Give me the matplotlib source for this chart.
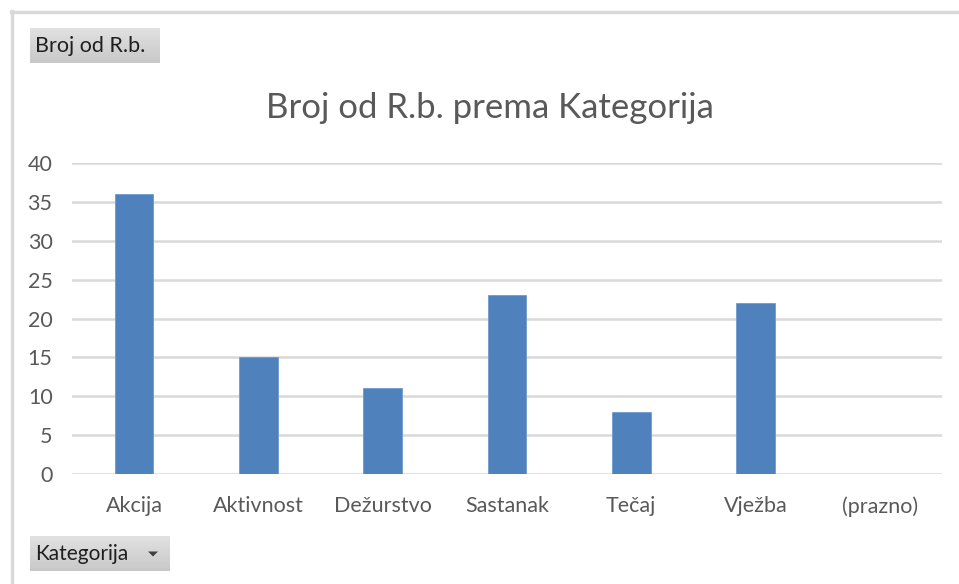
import matplotlib
matplotlib.use("Agg")
import matplotlib.pyplot as plt
from matplotlib.patches import Rectangle, Polygon
import numpy as np

categories = ["Akcija", "Aktivnost", "Dežurstvo", "Sastanak", "Tečaj", "Vježba", "(prazno)"]
values = [36, 15, 11, 23, 8, 22, 0]
yticks = [0, 5, 10, 15, 20, 25, 30, 35, 40]
title = "Broj od R.b. prema Kategorija"

W, H = 959, 584
fig = plt.figure(figsize=(W / 100, H / 100), dpi=100)
plt.rcParams['font.family'] = ['Lato', 'DejaVu Sans']

def fx(x):
    return x / W

def fy(y):
    return 1 - y / H

# outer border lines (top, left)
fig.add_artist(plt.Line2D([fx(11), 1], [fy(11.5), fy(11.5)], color="#d9d9d9", lw=2.5, transform=fig.transFigure))
fig.add_artist(plt.Line2D([fx(11.5), fx(11.5)], [fy(11), 0], color="#d9d9d9", lw=2.5, transform=fig.transFigure))

left, right, top, bottom = 72, 942, 163, 474
ax = fig.add_axes([fx(left), fy(bottom), fx(right) - fx(left), (bottom - top) / H])
x = np.arange(len(categories))
ax.bar(x, values, width=0.31, color="#4f81bd", edgecolor="#6f9ad0", linewidth=0.6, zorder=3)
ax.set_xlim(-0.5, len(categories) - 0.5)
ax.set_ylim(0, 40)
ax.set_yticks(yticks)
ax.set_yticklabels([str(t) for t in yticks])
ax.set_xticks(x)
ax.set_xticklabels(categories)
ax.yaxis.grid(True, color="#d9d9d9", lw=1.8, zorder=0)
ax.set_axisbelow(True)
for s in ax.spines.values():
    s.set_visible(False)
ax.tick_params(axis="both", length=0, labelsize=15.5, labelcolor="#595959")
ax.tick_params(axis="y", pad=14)
ax.tick_params(axis="x", pad=16)

fig.text(fx(490), fy(108), title, ha="center", va="center", fontsize=25, color="#595959")

# field buttons
def button(x0, y0, w, h, text, fs, arrow=False):
    n = 20
    for i in range(n):
        c = 0.88 - 0.1 * i / n
        fig.add_artist(Rectangle((fx(x0), fy(y0 + h * (i + 1) / n)), w / W, h / n / H,
                                 transform=fig.transFigure, facecolor=(c, c, c), edgecolor="none"))
    fig.text(fx(x0 + 5), fy(y0 + h / 2), text, ha="left", va="center", fontsize=fs, color="#1f1f1f")
    if arrow:
        cx, cy = x0 + w - 17, y0 + h / 2
        fig.add_artist(Polygon([(fx(cx - 5), fy(cy - 2)), (fx(cx + 5), fy(cy - 2)), (fx(cx), fy(cy + 3))],
                               closed=True, transform=fig.transFigure, facecolor="#404040", edgecolor="none"))

button(30, 28, 130, 35, "Broj od R.b.", 15.5)
button(30, 536, 140, 35, "Kategorija", 15, arrow=True)

fig.savefig("out.png", dpi=100)
